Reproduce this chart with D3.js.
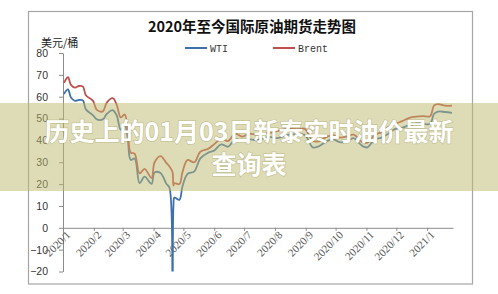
<!DOCTYPE html>
<html>
<head>
<meta charset="utf-8">
<script src="https://cdn.jsdelivr.net/npm/d3@7"></script>
<style>
  html, body { margin: 0; padding: 0; background: #fff; }
  svg { display: block; }
</style>
</head>
<body>
<div id="chart"></div>
<script>
// weekly-ish closing prices (USD / barrel)
const dates = ["2020-01-02","2020-01-06","2020-01-09","2020-01-13","2020-01-17","2020-01-21","2020-01-24","2020-01-31",
  "2020-02-04","2020-02-10","2020-02-14","2020-02-20","2020-02-24","2020-02-28","2020-03-03","2020-03-06",
  "2020-03-09","2020-03-13","2020-03-18","2020-03-23","2020-03-30","2020-04-02","2020-04-08","2020-04-14",
  "2020-04-17","2020-04-20","2020-04-21","2020-04-22","2020-04-27","2020-04-30","2020-05-05","2020-05-12",
  "2020-05-18","2020-05-26","2020-06-01","2020-06-08","2020-06-15","2020-06-22","2020-06-29","2020-07-06",
  "2020-07-13","2020-07-20","2020-07-27","2020-08-03","2020-08-10","2020-08-17","2020-08-24","2020-08-31",
  "2020-09-08","2020-09-14","2020-09-21","2020-09-28","2020-10-05","2020-10-12","2020-10-19","2020-10-28",
  "2020-11-02","2020-11-09","2020-11-16","2020-11-23","2020-11-30","2020-12-07","2020-12-14","2020-12-21",
  "2020-12-28","2021-01-04","2021-01-08","2021-01-12","2021-01-19","2021-01-26"];
const wti = [61.2,63.3,59.6,58.1,58.5,58.3,54.2,51.6,
  49.6,49.6,52.1,53.8,51.4,44.8,47.2,41.3,
  31.1,31.7,20.4,23.4,20.1,25.3,25.1,20.1,
  18.3,-37.6,10.0,13.8,12.8,18.8,24.6,25.8,
  31.8,34.4,35.4,38.2,37.1,40.5,39.7,40.6,
  40.1,40.8,41.6,41.0,41.9,42.9,42.6,42.6,
  36.8,37.3,39.3,40.6,39.2,39.4,41.0,37.4,
  36.8,40.3,41.3,43.1,45.3,45.8,47.0,47.7,
  47.6,47.6,52.2,53.2,53.0,52.6];
const brent = [66.3,68.9,65.4,64.2,64.9,64.6,60.7,58.2,
  54.0,53.3,57.3,59.3,56.3,50.5,51.9,45.3,
  34.4,33.9,24.9,27.0,22.8,29.9,32.8,29.6,
  28.1,25.6,19.3,20.4,20.0,25.3,31.0,30.0,
  34.8,36.2,38.3,40.8,39.7,43.1,41.7,43.1,
  42.7,43.3,43.4,44.2,45.0,45.4,45.1,45.3,
  39.8,39.6,41.4,42.4,41.3,41.7,42.6,39.1,
  39.0,42.4,43.8,46.1,47.6,48.8,50.3,50.9,
  51.1,51.1,56.0,56.6,55.9,55.9];
const seriesNames = ["WTI", "Brent"];
const yTicks = [-20, -10, 0, 10, 20, 30, 40, 50, 60, 70, 80];
const monthTicks = ["2020-01-01","2020-02-01","2020-03-01","2020-04-01","2020-05-01","2020-06-01","2020-07-01",
  "2020-08-01","2020-09-01","2020-10-01","2020-11-01","2020-12-01","2021-01-01"];

const width = 498, height = 294;
const parse = d3.timeParse("%Y-%m-%d");
const colors = ["#3d70ad", "#c0504d"];

const svg = d3.select("#chart").append("svg")
  .attr("width", width).attr("height", height);

// outer chart frame
svg.append("rect")
  .attr("x", 28.5).attr("y", 11.5).attr("width", 444).attr("height", 272.5)
  .attr("fill", "#fff").attr("stroke", "#a6a6a6").attr("stroke-width", 1.2);

const x = d3.scaleTime()
  .domain([parse("2020-01-01"), parse("2021-01-27")])
  .range([63, 453]);
const y = d3.scaleLinear().domain([-20, 80]).range([271.5, 53]);

// title
svg.append("text")
  .attr("x", 252).attr("y", 32)
  .attr("text-anchor", "middle")
  .style("font-family", "'Noto Sans CJK SC', sans-serif")
  .style("font-weight", "bold").style("font-size", "14.5px")
  .attr("fill", "#111")
  .text("2020年至今国际原油期货走势图");

// unit label
svg.append("text")
  .attr("x", 41).attr("y", 47)
  .style("font-family", "'Noto Sans CJK SC', sans-serif")
  .style("font-size", "11px").attr("fill", "#222")
  .text("美元/桶");

// legend
const legend = svg.append("g");
seriesNames.forEach((name, i) => {
  const lx = 185 + i * 88;
  legend.append("line")
    .attr("x1", lx).attr("x2", lx + 22).attr("y1", 48).attr("y2", 48)
    .attr("stroke", colors[i]).attr("stroke-width", 2);
  legend.append("text")
    .attr("x", lx + 25).attr("y", 51.5)
    .style("font-family", "'Liberation Mono', monospace")
    .style("font-size", "10px").attr("fill", "#333")
    .text(name);
});

// y axis
const yAxis = svg.append("g")
  .attr("transform", "translate(63,0)")
  .call(d3.axisLeft(y).tickValues(yTicks).tickSize(4).tickSizeOuter(0)
    .tickFormat(d => d < 0 ? "\u2212" + Math.abs(d) : d));
yAxis.select(".domain").attr("stroke", "#8c8c8c");
yAxis.selectAll(".tick line").attr("stroke", "#8c8c8c");
yAxis.selectAll(".tick text")
  .attr("x", -15)
  .style("font-family", "'Liberation Sans', Arial, sans-serif")
  .style("font-size", "10.5px").attr("fill", "#333");

// x axis at zero
const xAxis = svg.append("g")
  .attr("transform", `translate(0,${y(0)})`)
  .call(d3.axisBottom(x).tickValues(monthTicks.map(parse)).tickSize(3).tickSizeOuter(0)
    .tickFormat(d3.timeFormat("%Y/%-m")));
xAxis.select(".domain").attr("stroke", "#8c8c8c");
xAxis.selectAll(".tick line").attr("stroke", "#8c8c8c");
xAxis.selectAll(".tick text")
  .attr("text-anchor", "end")
  .attr("transform", "translate(5,5) rotate(-45)")
  .attr("x", 0).attr("y", 0).attr("dy", "0.35em")
  .style("font-family", "'Liberation Serif', serif")
  .style("font-size", "11px").attr("fill", "#555");

// clip for the plot area
svg.append("clipPath").attr("id", "plot")
  .append("rect").attr("x", 63).attr("y", 53).attr("width", 392).attr("height", 218.5);

const line = d3.line()
  .x(d => x(d.date)).y(d => y(d.v))
  .curve(d3.curveCatmullRom.alpha(0.5));

[wti, brent].forEach((vals, i) => {
  const pts = dates.map((d, k) => ({ date: parse(d), v: vals[k] }));
  svg.append("path")
    .datum(pts)
    .attr("clip-path", "url(#plot)")
    .attr("fill", "none")
    .attr("stroke", colors[i])
    .attr("stroke-width", 1.8)
    .attr("d", line);
});

// banner overlay
svg.append("rect")
  .attr("x", 0).attr("y", 103).attr("width", width).attr("height", 88)
  .attr("fill", "rgb(190,185,110)").attr("fill-opacity", 0.5);

const banner = ["历史上的01月03日新泰实时油价最新", "查询表"];
svg.selectAll(".banner")
  .data(banner)
  .enter()
  .append("text")
  .attr("class", "banner")
  .attr("x", 249).attr("y", (d, i) => 141 + i * 33)
  .attr("text-anchor", "middle")
  .style("font-family", "'Noto Sans CJK SC', sans-serif")
  .style("font-weight", "bold").style("font-size", "25px")
  .style("paint-order", "stroke")
  .attr("stroke", "rgba(120,115,60,0.25)").attr("stroke-width", 1.5)
  .attr("fill", "#fff")
  .text(d => d);
</script>
</body>
</html>
